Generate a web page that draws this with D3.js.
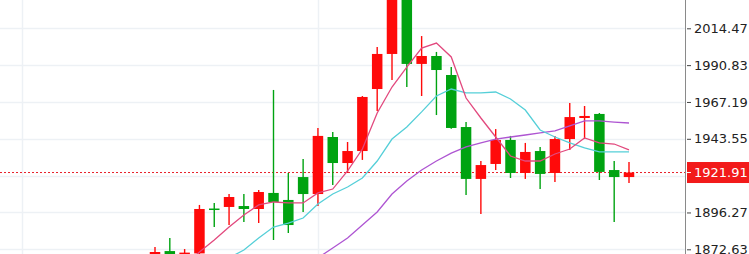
<!DOCTYPE html>
<html>
<head>
<meta charset="utf-8">
<script src="https://cdn.jsdelivr.net/npm/d3@7"></script>
<style>
  body { margin: 0; background: #fff; }
  svg { display: block; }
</style>
</head>
<body>
<script>
// candles, red = up, green = down
let opens  = [1866, 1871.5, 1868.5, 1870, 1898.8, 1899.8, 1900.4, 1898.5, 1908.8, 1904.3,
              1919.0, 1908.1, 1944.7, 1928.0, 1935.7, 1975.5, 1998.0, 2038, 1991.6, 1996.7,
              1984.5, 1951.1, 1917.8, 1927.4, 1942.8, 1921.6, 1935.7, 1921.6, 1943.4, 1956.9,
              1959.5, 1923.5, 1919.0]
let highs  = [1874.1, 1879.9, 1872.8, 1901.1, 1902.4, 1908.1, 1908.1, 1910.7, 1974.9, 1921.6,
              1930.6, 1950.5, 1947.9, 1941.5, 1971.0, 2002.5, 2046, 2042, 2009.5, 1999.3,
              1989.6, 1954.3, 1929.3, 1949.8, 1945.4, 1940.9, 1938.3, 1945.4, 1966.5, 1964.6,
              1960.1, 1929.3, 1928.7]
let lows   = [1863, 1862, 1866, 1867, 1887.0, 1888.2, 1890.2, 1889.5, 1878.6, 1883.1,
              1896.6, 1900.4, 1913.9, 1921.6, 1930.0, 1961.4, 1981.3, 1976.8, 1971.0, 1958.8,
              1950.0, 1907.5, 1895.3, 1923.5, 1918.4, 1917.8, 1911.3, 1915.8, 1936.4, 1943.4,
              1917.1, 1890.2, 1915.2]
let closes = [1870.9, 1866, 1870.5, 1898.5, 1898.2, 1906.2, 1898.5, 1909.4, 1903.0, 1888.2,
              1908.1, 1945.4, 1928.0, 1935.7, 1970.4, 1998.0, 2040, 1991.6, 1996.7, 1987.7,
              1950.5, 1917.8, 1926.7, 1942.8, 1921.6, 1935.1, 1921.0, 1943.4, 1957.5, 1958.2,
              1922.3, 1919.0, 1921.91]

// moving averages (null = not in view)
let maFast = [null, null, 1862.6, 1870.9, 1878.6, 1886.9, 1894.7, 1901.1, 1903.0, 1902.4,
              1902.4, 1908.8, 1911.3, 1922.9, 1937.0, 1960.1, 1976.8, 1989.6, 2001.8, 2005.0,
              1996.1, 1969.7, 1956.9, 1944.7, 1932.5, 1929.3, 1929.3, 1933.8, 1937.0, 1944.1,
              1940.9, 1940.2, 1936.4]
let maMid  = [null, null, null, null, null, 1867.1, 1872.2, 1879.9, 1886.9, 1889.5,
              1892.7, 1901.7, 1908.1, 1912.6, 1918.4, 1929.3, 1943.4, 1951.1, 1960.8, 1971.0,
              1975.5, 1973.0, 1973.0, 1973.6, 1969.1, 1962.0, 1949.2, 1944.7, 1940.9, 1937.7,
              1935.1, 1935.1, 1935.1]
let maSlow = [null, null, null, null, null, null, null, null, null, null,
              null, 1867.1, 1873.5, 1879.9, 1888.2, 1896.6, 1908.1, 1916.5, 1923.5, 1929.3,
              1934.4, 1938.3, 1940.9, 1943.4, 1944.7, 1946.0, 1947.3, 1948.6, 1951.8, 1955.0,
              1955.0, 1954.3, 1953.7]

let gridValues = [2014.47, 1990.83, 1967.19, 1943.55, 1919.91, 1896.27, 1872.63]
let tickValues = [2014.47, 1990.83, 1967.19, 1943.55, 1896.27, 1872.63]
let lastPrice = 1921.91
let vGridIdx = [-9, 11]

let m = {
  width: 749,
  height: 254,
  plotRight: 685,
  firstX: 155,
  lastX: 629,
  bodyW: 10.5
}

let colors = {
  up: '#ff0a0a',
  down: '#00a311',
  fast: '#e2497e',
  mid: '#55cfd8',
  slow: '#ae55d2',
  grid: '#edf1f5'
}

let svg = d3.select('body')
  .append('svg')
  .attr('width', m.width)
  .attr('height', m.height)

let x = d3.scaleLinear()
  .domain([0, opens.length - 1])
  .range([m.firstX, m.lastX])

let y = d3.scaleLinear()
  .domain([1872.63, 2014.47])
  .range([249.3, 28.3])

svg.append('clipPath')
  .attr('id', 'plot')
  .append('rect')
  .attr('width', m.plotRight)
  .attr('height', m.height)

let plot = svg.append('g').attr('clip-path', 'url(#plot)')

// grid
plot.selectAll('.hgrid')
  .data(gridValues)
  .enter()
  .append('line')
    .attr('x1', 0)
    .attr('x2', m.plotRight)
    .attr('y1', function(d) { return Math.round(y(d)) + 0.5 })
    .attr('y2', function(d) { return Math.round(y(d)) + 0.5 })
    .attr('stroke', colors.grid)
    .attr('stroke-width', 1.5)

plot.selectAll('.vgrid')
  .data(vGridIdx)
  .enter()
  .append('line')
    .attr('x1', function(d) { return Math.round(x(d)) + 0.5 })
    .attr('x2', function(d) { return Math.round(x(d)) + 0.5 })
    .attr('y1', 0)
    .attr('y2', m.height)
    .attr('stroke', colors.grid)
    .attr('stroke-width', 1.5)

// current price line
plot.append('line')
  .attr('x1', 0)
  .attr('x2', m.plotRight)
  .attr('y1', y(lastPrice))
  .attr('y2', y(lastPrice))
  .attr('stroke', '#e8202a')
  .attr('stroke-dasharray', '2,2')

let idx = d3.range(opens.length)

// candles
let candle = plot.selectAll('.candle')
  .data(idx)
  .enter()
  .append('g')

candle.append('line')
  .attr('x1', function(i) { return x(i) })
  .attr('x2', function(i) { return x(i) })
  .attr('y1', function(i) { return y(highs[i]) })
  .attr('y2', function(i) { return y(lows[i]) })
  .attr('stroke', function(i) { return closes[i] >= opens[i] ? colors.up : colors.down })
  .attr('stroke-width', 1.4)

candle.append('rect')
  .attr('x', function(i) { return x(i) - m.bodyW / 2 })
  .attr('width', m.bodyW)
  .attr('y', function(i) { return y(Math.max(opens[i], closes[i])) })
  .attr('height', function(i) { return Math.max(1.5, Math.abs(y(opens[i]) - y(closes[i]))) })
  .attr('fill', function(i) { return closes[i] >= opens[i] ? colors.up : colors.down })

// moving averages
let line = function(arr) {
  return d3.line()
    .defined(function(i) { return arr[i] != null })
    .x(function(i) { return x(i) })
    .y(function(i) { return y(arr[i]) })(idx)
}

;[[maSlow, colors.slow], [maMid, colors.mid], [maFast, colors.fast]].forEach(function(s) {
  plot.append('path')
    .attr('d', line(s[0]))
    .attr('fill', 'none')
    .attr('stroke', s[1])
    .attr('stroke-width', 1.3)
})

// price axis
svg.append('line')
  .attr('x1', m.plotRight + 0.5)
  .attr('x2', m.plotRight + 0.5)
  .attr('y1', 0)
  .attr('y2', m.height)
  .attr('stroke', '#8a8a8a')

let axis = svg.append('g')
  .attr('transform', 'translate(' + (m.plotRight + 2) + ',0)')
  .call(d3.axisRight(y).tickValues(tickValues).tickSize(4).tickPadding(3).tickFormat(d3.format('.2f')))

axis.select('.domain').remove()
axis.selectAll('.tick line').attr('stroke', '#444')
axis.selectAll('.tick text')
  .attr('fill', '#222')
  .style('font-family', 'DejaVu Sans, sans-serif')
  .style('font-size', '13px')

// last price tag
let tag = svg.append('g')
  .attr('transform', 'translate(' + (m.plotRight + 2) + ',' + y(lastPrice) + ')')

tag.append('rect')
  .attr('x', 0)
  .attr('y', -10.5)
  .attr('width', m.width - m.plotRight - 2)
  .attr('height', 21)
  .attr('fill', '#f21a1a')

tag.append('line')
  .attr('x1', 0)
  .attr('x2', 4)
  .attr('stroke', '#fff')

tag.append('text')
  .attr('x', 7)
  .attr('dy', '0.35em')
  .attr('fill', '#fff')
  .style('font-family', 'DejaVu Sans, sans-serif')
  .style('font-size', '13px')
  .text(d3.format('.2f')(lastPrice))
</script>
</body>
</html>
